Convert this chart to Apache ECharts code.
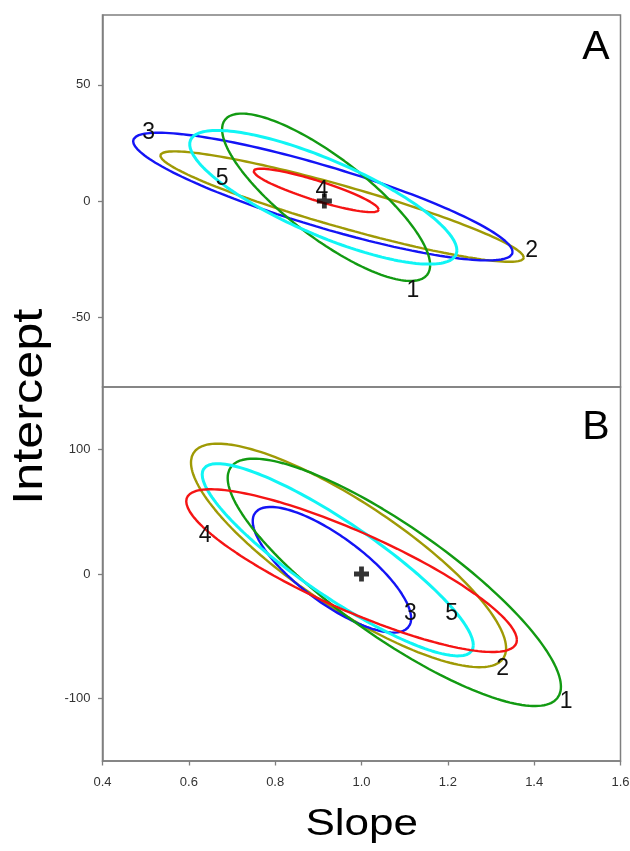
<!DOCTYPE html>
<html>
<head>
<meta charset="utf-8">
<script src="https://cdn.jsdelivr.net/npm/echarts@6/dist/echarts.min.js"></script>
<style>
html,body{margin:0;padding:0;background:#fff;}
#chart{width:630px;height:851px;}
</style>
</head>
<body>
<div id="chart"></div>
<script>
// ---------- data ----------
const slopeTicks = [0.4, 0.6, 0.8, 1.0, 1.2, 1.4, 1.6];
const interceptTicksA = [-50, 0, 50];
const interceptTicksB = [-100, 0, 100];

const ellipseIds = ['1', '2', '3', '4', '5'];

// Panel A: confidence ellipses (center, half-extent in slope, half-extent in intercept, correlation)
const aCenterSlope     = [0.918, 0.955, 0.9105, 0.895, 0.9115];
const aCenterIntercept = [1.6, -2.4, 1.9, 4.55, 1.6];
const aHalfSlope       = [0.241, 0.421, 0.4395, 0.145, 0.3095];
const aHalfIntercept   = [36, 23.75, 27.45, 9.35, 28.75];
const aCorrelation     = [-0.811, -0.922, -0.867, -0.882, -0.793];
const aLabelSlope      = [1.119, 1.394, 0.507, 0.908, 0.677];
const aLabelIntercept  = [-38.4, -21.2, 29.3, 4.5, 9.8];
const aTrue            = [0.914, 0];

// Panel B
const bCenterSlope     = [1.076, 0.970, 0.9315, 0.977, 0.945];
const bCenterIntercept = [-6.7, 14.9, 3.4, 2.7, 11.4];
const bHalfSlope       = [0.386, 0.365, 0.1835, 0.383, 0.314];
const bHalfIntercept   = [99.2, 89.65, 50.4, 65.25, 77.1];
const bCorrelation     = [-0.844, -0.831, -0.774, -0.852, -0.887];
const bLabelSlope      = [1.474, 1.327, 1.113, 0.638, 1.209];
const bLabelIntercept  = [-102.4, -75.6, -32.1, 30.5, -32.1];
const bTrue            = [1.0, 0];

// ---------- styles ----------
const ellipseColors = ['#129a12', '#9f9a05', '#1414f5', '#f51414', '#10f5f5'];
const ellipseWidths = [2.4, 2.4, 2.4, 2.4, 3];
const drawOrder = [1, 2, 0, 4, 3];
const FONT = "'Liberation Sans', Arial, Helvetica, sans-serif";
const AXIS_GRAY = '#7f7f7f';

function outline(cx, cy, w, h, rho) {
  const pts = [];
  const n = 180;
  const s = Math.sqrt(1 - rho * rho);
  for (let k = 0; k <= n; k++) {
    const t = 2 * Math.PI * k / n;
    pts.push([cx + w * Math.cos(t), cy + h * (rho * Math.cos(t) + s * Math.sin(t))]);
  }
  return pts;
}

const panels = [
  {cs: aCenterSlope, ci: aCenterIntercept, hs: aHalfSlope, hi: aHalfIntercept, r: aCorrelation,
   ls: aLabelSlope, li: aLabelIntercept, tr: aTrue},
  {cs: bCenterSlope, ci: bCenterIntercept, hs: bHalfSlope, hi: bHalfIntercept, r: bCorrelation,
   ls: bLabelSlope, li: bLabelIntercept, tr: bTrue}
];

const series = [];
panels.forEach((p, pi) => {
  drawOrder.forEach((i, zi) => {
    series.push({
      type: 'line', xAxisIndex: pi, yAxisIndex: pi,
      data: outline(p.cs[i], p.ci[i], p.hs[i], p.hi[i], p.r[i]),
      showSymbol: false, smooth: false, silent: true, animation: false, z: 2 + zi,
      lineStyle: {color: ellipseColors[i], width: ellipseWidths[i]}
    });
  });
  series.push({
    type: 'scatter', xAxisIndex: pi, yAxisIndex: pi, silent: true, animation: false, z: 20,
    symbolSize: 1, itemStyle: {opacity: 0},
    data: ellipseIds.map((id, i) => ({name: id, value: [p.ls[i], p.li[i]]})),
    label: {show: true, position: 'inside', formatter: '{b}', fontSize: 23,
            fontFamily: FONT, color: '#111', opacity: 1}
  });
  series.push({
    type: 'scatter', xAxisIndex: pi, yAxisIndex: pi, silent: true, animation: false, z: 21,
    symbol: 'path://M3.4,0H6.6V3.4H10V6.6H6.6V10H3.4V6.6H0V3.4H3.4Z',
    symbolSize: 15, symbolKeepAspect: true,
    itemStyle: {color: '#000'},
    data: [p.tr]
  });
});

function yAxis(idx, ticks, min, max) {
  return {
    type: 'value', gridIndex: idx, min: min, max: max,
    axisLine: {show: true, onZero: false, lineStyle: {color: AXIS_GRAY, width: 1.5}},
    axisTick: {show: true, inside: false, length: 4.5, customValues: ticks,
               lineStyle: {color: AXIS_GRAY, width: 1.3}},
    axisLabel: {show: true, customValues: ticks, margin: 12, fontSize: 13,
                fontFamily: FONT, color: '#333'},
    splitLine: {show: false}
  };
}

const option = {
  backgroundColor: '#fff',
  animation: false,
  grid: [
    {left: 102.5, top: 15, width: 518, height: 372, show: true, containLabel: false,
     outerBoundsMode: 'none',
     borderColor: AXIS_GRAY, borderWidth: 1.5, backgroundColor: 'transparent'},
    {left: 102.5, top: 387, width: 518, height: 374, show: true, containLabel: false,
     outerBoundsMode: 'none',
     borderColor: AXIS_GRAY, borderWidth: 1.5, backgroundColor: 'transparent'}
  ],
  xAxis: [
    {type: 'value', gridIndex: 0, min: 0.4, max: 1.6,
     axisLine: {show: false, onZero: false}, axisTick: {show: false}, axisLabel: {show: false},
     splitLine: {show: false}},
    {type: 'value', gridIndex: 1, min: 0.4, max: 1.6, position: 'bottom',
     axisLine: {show: true, onZero: false, lineStyle: {color: AXIS_GRAY, width: 1.5}},
     axisTick: {show: true, inside: false, length: 4.5, customValues: slopeTicks,
                lineStyle: {color: AXIS_GRAY, width: 1.3}},
     axisLabel: {show: true, customValues: slopeTicks, margin: 15, fontSize: 13,
                 fontFamily: FONT, color: '#333',
                 formatter: v => Number(v).toFixed(1)},
     splitLine: {show: false}}
  ],
  yAxis: [yAxis(0, interceptTicksA, -80, 80), yAxis(1, interceptTicksB, -150, 150)],
  graphic: [
    {type: 'text', x: 361.7, y: 825, scaleX: 1.19, silent: true,
     style: {text: 'Slope', font: '37px ' + FONT, fill: '#000',
             align: 'center', verticalAlign: 'middle'}},
    {type: 'text', x: 30.5, y: 406.7, rotation: Math.PI / 2, scaleX: 1.2, silent: true,
     style: {text: 'Intercept', font: '42px ' + FONT, fill: '#000',
             align: 'center', verticalAlign: 'middle'}},
    {type: 'text', x: 596, y: 47.7, silent: true,
     style: {text: 'A', font: '41px ' + FONT, fill: '#000',
             align: 'center', verticalAlign: 'middle'}},
    {type: 'text', x: 596, y: 427.7, silent: true,
     style: {text: 'B', font: '41px ' + FONT, fill: '#000',
             align: 'center', verticalAlign: 'middle'}}
  ],
  series: series
};

const chart = echarts.init(document.getElementById('chart'), null, {renderer: 'canvas'});
chart.setOption(option);
</script>
</body>
</html>
